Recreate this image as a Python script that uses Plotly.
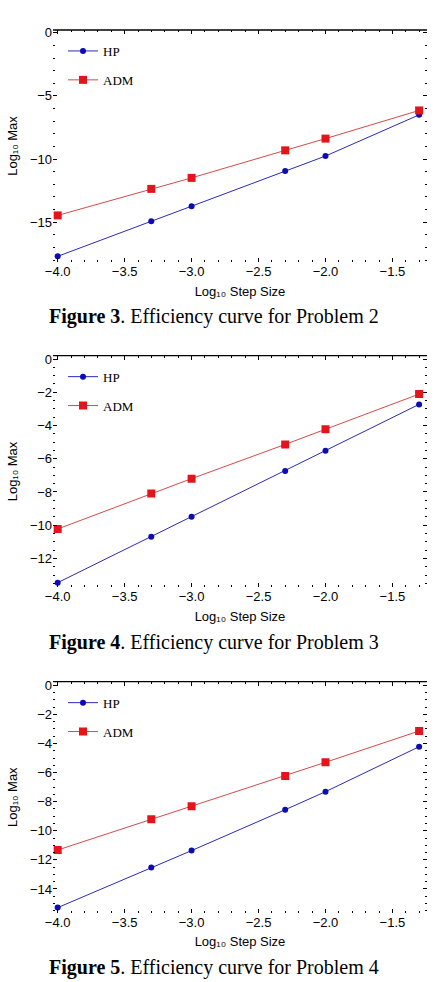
import plotly.graph_objects as go

# ---------------- data ----------------
x_log_step = [-4.0, -3.30103, -3.0, -2.30103, -2.0, -1.30103]

hp_p2 = [-17.70, -14.93, -13.74, -10.95, -9.76, -6.50]
adm_p2 = [-14.46, -12.36, -11.49, -9.31, -8.38, -6.15]

hp_p3 = [-13.46, -10.69, -9.49, -6.74, -5.52, -2.73]
adm_p3 = [-10.23, -8.10, -7.20, -5.14, -4.23, -2.11]

hp_p4 = [-15.28, -12.53, -11.36, -8.55, -7.31, -4.22]
adm_p4 = [-11.32, -9.21, -8.32, -6.23, -5.29, -3.14]

series_names = ["HP", "ADM"]
captions = [
    "<b>Figure 3</b>. Efficiency curve for Problem 2",
    "<b>Figure 4</b>. Efficiency curve for Problem 3",
    "<b>Figure 5</b>. Efficiency curve for Problem 4",
]
x_title = "Log₁₀ Step Size"
y_title = "Log₁₀ Max"

# ---------------- layout helpers ----------------
W, H = 438, 982


def px_x(v):
    return v / W


def px_y(v):
    return 1 - v / H


panels = [
    dict(hp=hp_p2, adm=adm_p2, top=30.0, bottom=262.0, yr=[-18.15, 0.22], dtick=5, mdt=1),
    dict(hp=hp_p3, adm=adm_p3, top=355.7, bottom=587.3, yr=[-13.74, 0.20], dtick=2, mdt=0.5),
    dict(hp=hp_p4, adm=adm_p4, top=681.7, bottom=912.7, yr=[-15.63, 0.25], dtick=2, mdt=0.5),
]

blue_line = "#2a2ab8"
blue_mark = "#0c0cb0"
red_line = "#d44a4a"
red_mark = "#e3141c"

sans = "Liberation Sans, Arial, sans-serif"
serif = "Liberation Serif, Times New Roman, serif"

fig = go.Figure()
layout = dict(
    template="none",
    width=W, height=H,
    margin=dict(l=0, r=0, t=0, b=0, autoexpand=False),
    paper_bgcolor="white", plot_bgcolor="white",
    showlegend=True,
    font=dict(family=sans, size=13, color="black"),
)
shapes = []
annotations = []

for i, p in enumerate(panels):
    k = "" if i == 0 else str(i + 1)
    xa, ya = "x" + k, "y" + k
    leg = "legend" + k
    fig.add_trace(go.Scatter(
        x=x_log_step, y=p["hp"], name=series_names[0], mode="lines+markers",
        line=dict(color=blue_line, width=1), marker=dict(color=blue_mark, size=6, symbol="circle"),
        xaxis=xa, yaxis=ya, legend=leg, legendgroup="hp" + k,
    ))
    fig.add_trace(go.Scatter(
        x=x_log_step, y=p["adm"], name=series_names[1], mode="lines+markers",
        line=dict(color=red_line, width=1), marker=dict(color=red_mark, size=8, symbol="square"),
        xaxis=xa, yaxis=ya, legend=leg, legendgroup="adm" + k,
    ))

    axis_common = dict(
        automargin=False,
        showgrid=False, zeroline=False, showline=False,
        ticks="inside", ticklen=4, tickwidth=1, tickcolor="black",
        mirror="ticks",
        tickfont=dict(family=sans, size=13, color="black"),
    )
    layout["xaxis" + k] = dict(
        axis_common,
        domain=[px_x(53), px_x(427)], anchor=ya,
        range=[-4.035, -1.242], dtick=0.5, tick0=0, tickformat=".1f",
        minor=dict(ticks="inside", ticklen=2, dtick=0.1, tickcolor="black"),
        title=dict(text=x_title, font=dict(family=sans, size=13), standoff=8),
    )
    layout["yaxis" + k] = dict(
        axis_common,
        domain=[px_y(p["bottom"]), px_y(p["top"])], anchor=xa,
        range=p["yr"], dtick=p["dtick"], tick0=0,
        minor=dict(ticks="inside", ticklen=2, dtick=p["mdt"], tickcolor="black"),
        title=dict(text=y_title, font=dict(family=sans, size=13), standoff=9),
    )
    layout[leg] = dict(
        x=px_x(63), y=px_y(p["top"] + 6), xanchor="left", yanchor="top",
        bgcolor="rgba(0,0,0,0)", font=dict(family=serif, size=13, color="black"),
        tracegroupgap=9, itemwidth=30,
    )
    # solid top frame line
    shapes.append(dict(
        type="line", xref=xa + " domain", yref=ya + " domain",
        x0=0, x1=1, y0=1, y1=1, line=dict(color="black", width=1.3),
    ))
    annotations.append(dict(
        text=captions[i], xref="paper", yref="paper",
        x=px_x(214), y=px_y(p["bottom"] + 55), xanchor="center", yanchor="middle",
        showarrow=False, font=dict(family=serif, size=20, color="black"),
    ))

layout["shapes"] = shapes
layout["annotations"] = annotations
fig.update_layout(**layout)
fig.write_html("out.html")
